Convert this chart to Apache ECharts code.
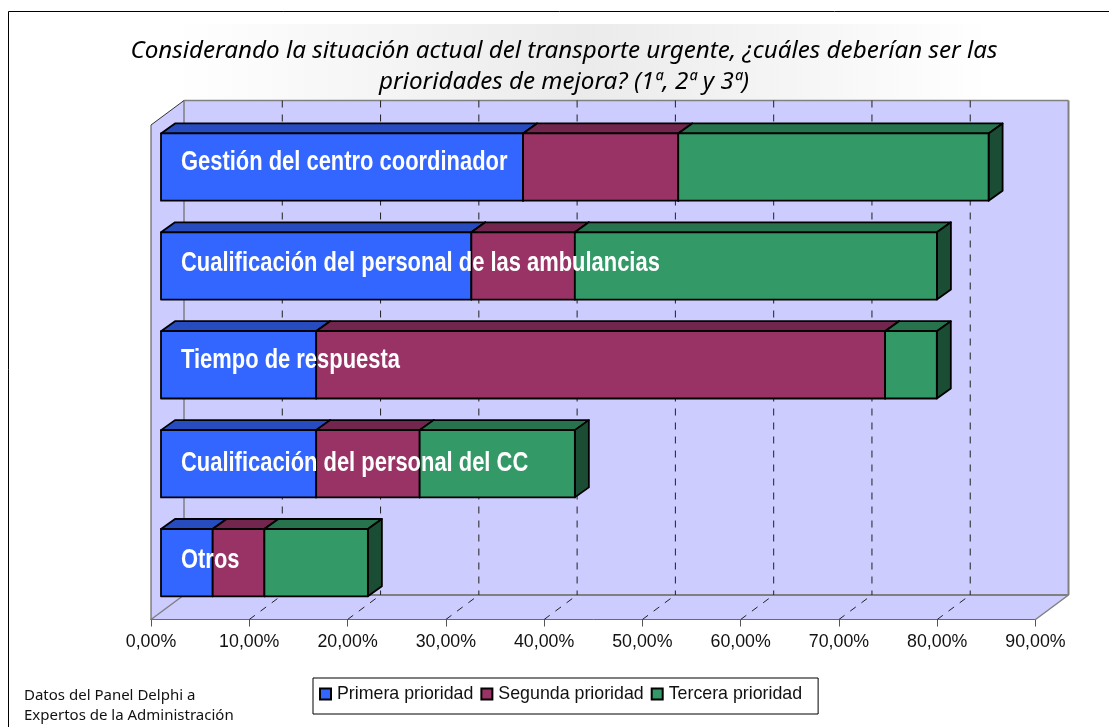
<!DOCTYPE html>
<html>
<head>
<meta charset="utf-8">
<title>Prioridades de mejora</title>
<script src="https://cdn.jsdelivr.net/npm/echarts@6/dist/echarts.min.js"></script>
<style>
  html, body { margin: 0; padding: 0; background: #fff; }
  #chart { width: 1109px; height: 727px; }
</style>
</head>
<body>
<div id="chart"></div>
<script>
// Datos
const categories = [
    'Gestión del centro coordinador',
    'Cualificación del personal de las ambulancias',
    'Tiempo de respuesta',
    'Cualificación del personal del CC',
    'Otros'
];
const primera = [36.84, 31.58, 15.79, 15.79, 5.26];
const segunda = [15.79, 10.53, 57.89, 10.53, 5.26];
const tercera = [31.58, 36.84, 5.26, 15.79, 10.53];
const axisTicks = [10, 20, 30, 40, 50, 60, 70, 80];

const WALL_DX = 33, WALL_DY = -24.5;   // fondo de la caja 3D
const BAR_DX = 10, BAR_DY = -7.4;      // donde empieza la barra dentro de la caja
const DEPTH_X = 14, DEPTH_Y = -10;     // profundidad de la barra

const chart = echarts.init(document.getElementById('chart'));

// Acumula cada serie sobre las anteriores: [categoria, inicio, fin]
function stack(values, previous) {
    return values.map((v, i) => {
        const start = previous ? previous[i][2] : 0;
        return [i, start, start + v];
    });
}
const dataPrimera = stack(primera);
const dataSegunda = stack(segunda, dataPrimera);
const dataTercera = stack(tercera, dataSegunda);

// Barra con cara frontal, superior y lateral
function bar3d(front, top, side) {
    return function (params, api) {
        const a = api.coord([api.value(1), api.value(0)]);
        const b = api.coord([api.value(2), api.value(0)]);
        const h = api.size([0, 1])[1] * 0.68;
        const x0 = a[0] + BAR_DX, x1 = b[0] + BAR_DX;
        const y0 = a[1] + BAR_DY - h / 2, y1 = y0 + h;
        const line = { stroke: '#000', lineWidth: 1.8, lineJoin: 'round' };
        return {
            type: 'group',
            children: [
                { type: 'polygon', shape: { points: [[x0, y0], [x0 + DEPTH_X, y0 + DEPTH_Y], [x1 + DEPTH_X, y0 + DEPTH_Y], [x1, y0]] }, style: { fill: top, ...line } },
                { type: 'polygon', shape: { points: [[x1, y0], [x1 + DEPTH_X, y0 + DEPTH_Y], [x1 + DEPTH_X, y1 + DEPTH_Y], [x1, y1]] }, style: { fill: side, ...line } },
                { type: 'rect', shape: { x: x0, y: y0, width: x1 - x0, height: h }, style: { fill: front, ...line } }
            ]
        };
    };
}

// Paredes y suelo de la caja
function renderWalls(params) {
    const c = params.coordSys;
    const l = c.x, r = c.x + c.width, t = c.y, b = c.y + c.height;
    const grey = { stroke: '#808080', lineWidth: 1.5 };
    const wall = { fill: '#ccccff', stroke: 'none' };
    return {
        type: 'group',
        children: [
            { type: 'rect', shape: { x: l + WALL_DX, y: t + WALL_DY, width: c.width, height: c.height }, style: wall },
            { type: 'polygon', shape: { points: [[l, t], [l + WALL_DX, t + WALL_DY], [l + WALL_DX, b + WALL_DY], [l, b]] }, style: wall },
            { type: 'polygon', shape: { points: [[l, b], [l + WALL_DX, b + WALL_DY], [r + WALL_DX, b + WALL_DY], [r, b]] }, style: wall },
            { type: 'line', shape: { x1: l + WALL_DX, y1: t + WALL_DY, x2: r + WALL_DX, y2: t + WALL_DY }, style: { stroke: '#808080', lineWidth: 1.5 } },
            { type: 'line', shape: { x1: r + WALL_DX, y1: t + WALL_DY, x2: r + WALL_DX, y2: b + WALL_DY }, style: { stroke: '#808080', lineWidth: 2 } },
            { type: 'line', shape: { x1: l + WALL_DX, y1: b + WALL_DY, x2: r + WALL_DX, y2: b + WALL_DY }, style: { stroke: '#808080', lineWidth: 2 } },
            { type: 'line', shape: { x1: l + WALL_DX, y1: t + WALL_DY, x2: l + WALL_DX, y2: b + WALL_DY }, style: grey },
            { type: 'line', shape: { x1: l, y1: b, x2: l + WALL_DX, y2: b + WALL_DY }, style: grey },
            { type: 'line', shape: { x1: r, y1: b, x2: r + WALL_DX, y2: b + WALL_DY }, style: grey },
            { type: 'line', shape: { x1: l, y1: t, x2: l + WALL_DX, y2: t + WALL_DY }, style: { stroke: '#333', lineWidth: 1 } },
            { type: 'line', shape: { x1: l, y1: t, x2: l, y2: b }, style: { stroke: '#666', lineWidth: 1.2 } }
        ]
    };
}

// Lineas de division discontinuas en fondo y suelo
function renderGridline(params, api) {
    const c = params.coordSys;
    const x = api.coord([api.value(0), 0])[0];
    const t = c.y, b = c.y + c.height;
    const dash = { stroke: '#222', lineWidth: 1, lineDash: [7, 7] };
    return {
        type: 'group',
        children: [
            { type: 'line', shape: { x1: x + WALL_DX, y1: t + WALL_DY, x2: x + WALL_DX, y2: b + WALL_DY }, style: dash },
            { type: 'line', shape: { x1: x, y1: b, x2: x + WALL_DX, y2: b + WALL_DY }, style: dash }
        ]
    };
}

// Rotulos blancos dentro de las barras
const labelShift = [-4.5, -2, -4.5, -0.5, -2];
function renderLabel(params, api) {
    const p = api.coord([0, api.value(0)]);
    return {
        type: 'text',
        x: p[0] + 30,
        y: p[1] + BAR_DY + labelShift[params.dataIndex],
        scaleX: 0.812,
        style: {
            x: 0,
            y: 0,
            text: categories[params.dataIndex],
            fill: '#fff',
            font: 'bold 27px "Liberation Sans", sans-serif',
            textAlign: 'left',
            textVerticalAlign: 'middle'
        }
    };
}

chart.setOption({
    animation: false,
    backgroundColor: '#fff',
    title: {
        text: 'Considerando la situación actual del transporte urgente, ¿cuáles deberían ser las\nprioridades de mejora? (1ª, 2ª y 3ª)',
        left: 559,
        top: 31,
        textAlign: 'center',
        textStyle: {
            fontFamily: 'Noto Sans',
            fontStyle: 'italic',
            fontWeight: 'normal',
            fontSize: 24.2,
            lineHeight: 31,
            color: '#000'
        }
    },
    legend: {
        data: ['Primera prioridad', 'Segunda prioridad', 'Tercera prioridad'],
        left: 313,
        top: 678,
        padding: [7, 16, 11, 6],
        itemGap: 7,
        itemWidth: 11,
        itemHeight: 11,
        icon: 'rect',
        borderColor: '#000',
        borderWidth: 1,
        backgroundColor: '#fff',
        textStyle: { fontFamily: 'Liberation Sans', fontSize: 17.8, color: '#111', padding: [0, 0, 4, 1] }
    },
    graphic: [
        { type: 'rect', silent: true, z: -2, shape: { x: 176, y: 24, width: 814, height: 76 }, style: { fill: new echarts.graphic.LinearGradient(0, 0, 1, 0, [{ offset: 0, color: '#ffffff' }, { offset: 0.5, color: '#ebebeb' }, { offset: 1, color: '#ffffff' }]) } },
        { type: 'rect', silent: true, z: -1, shape: { x: 8.5, y: 11.5, width: 1200, height: 800 }, style: { fill: 'none', stroke: '#000', lineWidth: 1 } },
        { type: 'text', left: 24, top: 686, style: { text: 'Datos del Panel Delphi a\nExpertos de la Administración', font: '15px "Noto Sans"', lineHeight: 20, fill: '#111' } }
    ],
    grid: { left: 151, right: 73.5, top: 125, bottom: 107.5 },
    xAxis: {
        type: 'value',
        min: 0,
        max: 90,
        interval: 10,
        axisLine: { show: true, lineStyle: { color: '#000', width: 1 } },
        axisTick: { show: true, length: 7, lineStyle: { color: '#555' } },
        splitLine: { show: false },
        axisLabel: {
            margin: 14,
            fontFamily: 'Liberation Sans',
            fontSize: 17.8,
            color: '#111',
            formatter: v => v.toFixed(2).replace('.', ',') + '%'
        }
    },
    yAxis: { type: 'category', inverse: true, show: false, data: categories },
    series: [
        { type: 'custom', name: 'paredes', z: 1, silent: true, clip: false, data: [[0, 0]], renderItem: renderWalls },
        { type: 'custom', name: 'rejilla', z: 2, silent: true, clip: false, data: axisTicks.map(t => [t]), encode: { x: 0 }, renderItem: renderGridline },
        { type: 'custom', name: 'Primera prioridad', z: 3, data: dataPrimera, encode: { x: [1, 2], y: 0 }, itemStyle: { color: '#3366ff', borderColor: '#000', borderWidth: 1.5 }, renderItem: bar3d('#3366ff', '#264cbf', '#1a3380') },
        { type: 'custom', name: 'Segunda prioridad', z: 4, data: dataSegunda, encode: { x: [1, 2], y: 0 }, itemStyle: { color: '#993366', borderColor: '#000', borderWidth: 1.5 }, renderItem: bar3d('#993366', '#73264d', '#4d1a33') },
        { type: 'custom', name: 'Tercera prioridad', z: 5, data: dataTercera, encode: { x: [1, 2], y: 0 }, itemStyle: { color: '#339966', borderColor: '#000', borderWidth: 1.5 }, renderItem: bar3d('#339966', '#26734d', '#1a4d33') },
        { type: 'custom', name: 'rotulos', z: 6, silent: true, clip: false, data: categories.map((c, i) => [i]), encode: { y: 0 }, renderItem: renderLabel }
    ]
});
</script>
</body>
</html>
